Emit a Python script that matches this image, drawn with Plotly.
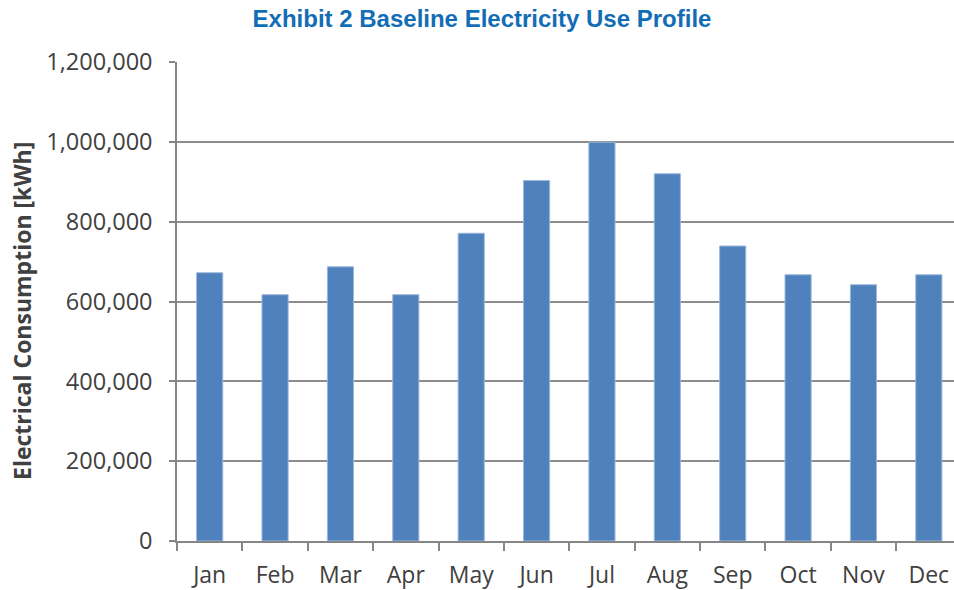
import plotly.graph_objects as go

months = ["Jan", "Feb", "Mar", "Apr", "May", "Jun", "Jul", "Aug", "Sep", "Oct", "Nov", "Dec"]
consumption_kwh = [672000, 617000, 687000, 617000, 771000, 903000, 999000, 920000, 739000, 667000, 642000, 667000]
y_ticks = [0, 200000, 400000, 600000, 800000, 1000000, 1200000]

W, H = 954, 590
L, R, T, B = 177, 0, 62, 49

fig = go.Figure()
fig.add_trace(go.Bar(
    x=months, y=consumption_kwh, width=0.4,
    marker=dict(color="#4F81BD", line=dict(color="#9DB7DA", width=1)),
))

fig.update_layout(
    width=W, height=H,
    margin=dict(l=L, r=R, t=T, b=B, pad=0),
    paper_bgcolor="white", plot_bgcolor="white",
    showlegend=False,
    title=dict(
        text="<b>Exhibit 2 Baseline Electricity Use Profile</b>",
        font=dict(family="Liberation Sans, Arial", size=24, color="#136DB6"),
        x=482 / W, xanchor="center", xref="container",
        y=1 - 19 / H, yanchor="middle", yref="container",
    ),
    font=dict(family="Open Sans", color="#404040"),
)

fig.update_xaxes(
    type="category", range=[-0.5, 11.385],
    showgrid=False, showline=True, linecolor="#868686", linewidth=1.5,
    ticks="outside", ticklen=8, tickcolor="#868686", tickwidth=1.5,
    tickson="boundaries",
    tickfont=dict(family="Open Sans", size=23, color="#404040"),
    ticklabelstandoff=13,
)
fig.update_yaxes(
    range=[0, 1200000], tickvals=y_ticks, tickformat=",d",
    showgrid=True, gridcolor="#8C8C8C", gridwidth=1.5,
    showline=True, linecolor="#868686", linewidth=1.5,
    ticks="outside", ticklen=6, tickcolor="#868686", tickwidth=1.5,
    tickfont=dict(family="Open Sans", size=23.5, color="#404040"),
    ticklabelstandoff=12, zeroline=False,
)

fig.add_annotation(
    text="<b>Electrical Consumption [kWh]</b>",
    textangle=-90, showarrow=False,
    xref="paper", yref="paper",
    x=(22 - L) / (W - L - R), y=(541 - 311) / (H - T - B),
    xanchor="center", yanchor="middle",
    font=dict(family="Open Sans", size=23, color="#404040"),
)

fig.write_html("out.html")
